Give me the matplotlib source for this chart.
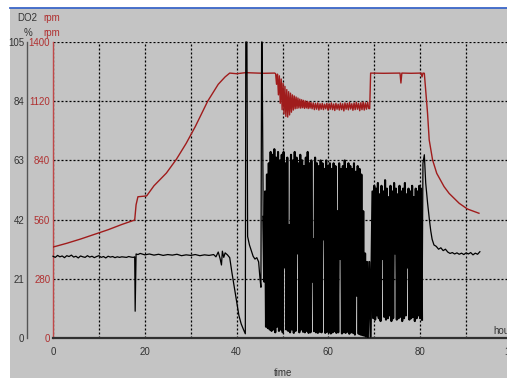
import numpy as np
import matplotlib
matplotlib.use("Agg")
import matplotlib.pyplot as plt
from matplotlib.patches import Rectangle
from matplotlib.lines import Line2D

plt.rcParams['font.family'] = ['Liberation Sans Narrow', 'Liberation Sans', 'DejaVu Sans']
plt.rcParams['path.simplify'] = False

# ---- stirrer speed (rpm), red curve ----
rpm_ramp_t = [0, 3, 6, 9, 12, 15, 17.8, 18.1, 18.5, 20.4, 22, 24.7, 26.9, 29, 31, 33.7, 36, 37.5, 38.5,
              40, 42, 44.5, 46, 48.3]
rpm_ramp_v = [430, 448, 468, 490, 512, 537, 558, 630, 668, 672, 720, 780, 846, 920, 1000, 1120, 1200, 1235, 1253,
              1250, 1255, 1253, 1252, 1253]
# oscillating band after the first plateau: 48.5 h .. 56 h, then 56.2 h .. 68.8 h
rpm_band1_hi = [1250, 1248, 1240, 1225, 1205, 1190, 1175, 1165, 1158, 1150, 1145, 1140, 1135, 1130, 1127,
                1124, 1121, 1119, 1117]
rpm_band1_lo = [1200, 1150, 1110, 1080, 1060, 1048, 1045, 1055, 1068, 1078, 1084, 1086, 1088, 1087, 1089,
                1086, 1088, 1085, 1087]
rpm_band2_hi = [1114, 1112, 1110, 1112, 1108, 1110, 1106, 1110, 1108, 1112, 1107, 1110, 1106, 1111, 1108,
                1112, 1110, 1114, 1108, 1112, 1115, 1110, 1113, 1116, 1112, 1115]
rpm_band2_lo = [1084, 1080, 1082, 1078, 1082, 1080, 1084, 1078, 1082, 1080, 1076, 1082, 1078, 1080, 1074,
                1082, 1079, 1083, 1077, 1080, 1082, 1075, 1080, 1078, 1082, 1085]
rpm_end_t = [69.0, 69.2, 72, 75.6, 75.8, 76.0, 78, 80.2, 80.4, 80.6, 80.9, 81.6, 81.96, 82.7, 83.6, 85.2,
             86.3, 88.5, 90.3, 92.8]
rpm_end_v = [1085, 1253, 1252, 1253, 1206, 1253, 1252, 1253, 1235, 1253, 1252, 1063, 937, 842, 779, 716,
             684, 637, 610, 590]

# ---- dissolved oxygen (%), black curve ----
do2_base_t = [0, 0.5, 1, 1.5, 2, 2.5, 3, 3.5, 4, 4.5, 5, 5.5, 6, 6.5, 7, 7.5, 8, 8.5, 9, 9.5, 10, 10.5,
              11, 11.5, 12, 12.5, 13, 13.5, 14, 14.5, 15, 15.5, 16, 16.5, 17, 17.5, 17.8, 17.9, 18.1,
              18.5, 19, 20, 21, 22, 23, 24, 25, 26, 27, 28, 29, 30, 31, 32, 33, 34, 35, 35.5, 36, 36.4,
              36.7, 36.9, 37.2, 37.5, 38, 38.5, 39, 39.5, 40, 40.5, 41, 41.5, 41.9, 42.0, 42.25, 42.4,
              42.8, 43.2, 43.6, 44, 44.4, 44.8, 45.1, 45.3, 45.45, 45.55, 45.8]
do2_base_v = [29.0, 28.6, 29.3, 28.8, 29.1, 28.5, 29.2, 28.9, 29.4, 28.7, 29.0, 28.4, 29.1, 28.8, 28.6, 29.2,
              28.7, 29.0, 28.5, 28.9, 29.2, 28.6, 28.9, 28.4, 29.0, 28.7, 28.9, 28.5, 28.8, 28.6, 28.8,
              28.7, 28.6, 28.9, 28.7, 28.6, 28.8, 9.5, 29.8, 29.6, 30.0, 29.5, 29.8, 29.4, 29.7, 29.3,
              29.6, 29.4, 29.7, 29.2, 29.5, 29.3, 29.6, 29.2, 29.5, 29.3, 29.6, 28.8, 30.5, 28.2, 25.9,
              30.8, 28.6, 30.2, 29.5, 28.5, 23, 18, 13, 8, 5, 3, 1.5, 105, 105, 36, 33, 31, 29, 28, 28.5,
              27, 21, 18, 105, 105, 43]
# fast on/off oscillation, 45.8 h .. 68.6 h
do2_a_hi = [43, 52, 58, 62, 66, 65, 67, 64, 66, 63, 65, 66, 62, 64, 40, 65, 63, 66, 64, 62, 65, 63, 61, 64,
            66, 62, 63, 35, 64, 62, 61, 63, 62, 60, 63, 61, 62, 60, 62, 61, 45, 62, 60, 61, 63, 60, 62, 61,
            60, 62, 59, 61, 60, 58, 45, 30, 27]
do2_a_lo = [20, 4, 3.5, 3, 2.5, 3, 2, 4, 2.5, 3, 2, 25, 3, 2.5, 2, 3, 1.8, 2.5, 30, 2, 3, 2.2, 2, 2.5, 1.8,
            2, 20, 2.4, 2, 1.8, 2.2, 2, 35, 1.8, 2.2, 2, 1.6, 2, 2.4, 1.8, 2, 28, 1.6, 2, 1.8, 2.2, 1.5, 2,
            1.8, 1.2, 15, 1.5, 1.2, 1, 0.8, 0.5, 0.3]
do2_gap_t = [68.9, 69.2]
do2_gap_v = [27, 0.5]
# second oscillation block, 69.6 h .. 80.4 h
do2_b_hi = [52, 54, 53, 55, 51, 54, 52, 56, 53, 50, 54, 52, 55, 53, 51, 54, 52, 53, 55, 51, 53, 52, 54, 50,
            53, 52, 54, 53]
do2_b_lo = [7, 6.5, 8, 7, 6, 28, 7.5, 6.5, 7, 8, 6, 7, 30, 6.5, 7, 7.5, 6, 7, 8, 25, 6.5, 7, 7.5, 6, 7, 8,
            7, 6.5]
do2_tail_t = [80.4, 80.6, 80.9, 81.2, 81.6, 82.0, 82.3, 82.6, 83, 83.5, 84, 84.5, 85, 85.5, 86, 86.5, 87,
              87.5, 88, 88.5, 89, 89.5, 90, 90.5, 91, 91.5, 92, 92.5, 93]
do2_tail_v = [6.5, 62, 65, 55, 48, 42, 38, 35, 33, 32.5, 31.5, 32, 31, 31.5, 30.5, 30, 30.3, 29.8, 30.2,
              29.7, 30.1, 29.6, 30.2, 29.8, 30.3, 29.5, 30.1, 29.7, 30.6]


def zigzag(hi, lo, t0, t1):
    vals = np.ravel(np.column_stack([hi, lo]))
    return np.linspace(t0, t1, len(vals)), vals


W, H = 507, 378
fig = plt.figure(figsize=(W / 100, H / 100), dpi=100)
fig.patch.set_facecolor('white')
fig.patches.append(Rectangle((10 / W, 0), 1, 1 - 8 / H, transform=fig.transFigure,
                             facecolor='#c4c4c4', edgecolor='none', zorder=-10))
fig.lines.append(Line2D([10 / W, 1], [1 - 7.5 / H, 1 - 7.5 / H], transform=fig.transFigure,
                        color='#3a66c8', lw=1.3))

ax = fig.add_axes([53 / W, (H - 338) / H, 459 / W, 296 / H])
ax.set_facecolor('none')
ax.set_xlim(0, 100)
ax.set_ylim(0, 1400)

grid_kw = dict(color='black', lw=0.9, dashes=(1.6, 1.6))
ax.set_xticks(np.arange(0, 101, 10))
ax.set_xticklabels([str(v) if v % 20 == 0 else '' for v in range(0, 101, 10)])
ax.set_yticks(np.arange(0, 1401, 280))
ax.grid(True, **grid_kw)
ax.tick_params(axis='x', length=0, pad=6.5, labelsize=7, labelcolor='#333333')
ax.tick_params(axis='y', length=0, pad=2, labelsize=7, labelcolor='#b03030')
for s in ['top', 'right']:
    ax.spines[s].set_visible(False)
ax.spines['left'].set_color('#c04848')
ax.spines['left'].set_linewidth(1.0)
ax.spines['bottom'].set_color('#303030')
ax.spines['bottom'].set_linewidth(1.6)

# red speed curve
b1t, b1v = zigzag(rpm_band1_hi, rpm_band1_lo, 48.5, 56.0)
b2t, b2v = zigzag(rpm_band2_hi, rpm_band2_lo, 56.2, 68.8)
rpm_t = np.concatenate([rpm_ramp_t, b1t, b2t, rpm_end_t])
rpm_v = np.concatenate([rpm_ramp_v, b1v, b2v, rpm_end_v])
ax.plot(rpm_t, rpm_v, color='#a01c1c', lw=1.0, zorder=3)

# DO2 axis on the left
ax2 = ax.twinx()
ax2.set_ylim(0, 105)
ax2.set_yticks(np.arange(0, 106, 21))
ax2.yaxis.tick_left()
ax2.spines['left'].set_visible(True)
ax2.spines['left'].set_position(('outward', 18.7))
ax2.spines['left'].set_color('#555555')
ax2.spines['left'].set_linewidth(1.0)
for s in ['top', 'right', 'bottom']:
    ax2.spines[s].set_visible(False)
ax2.tick_params(axis='y', length=0, pad=2, labelsize=7, labelcolor='#333333')

# DO2 curve: quiet parts thin, oscillating blocks drawn a little heavier
at, av = zigzag(do2_a_hi, do2_a_lo, 45.8, 68.6)
bt2, bv2 = zigzag(do2_b_hi, do2_b_lo, 69.6, 80.4)
ax2.plot(do2_base_t, do2_base_v, color='black', lw=0.9, zorder=3, clip_on=False)
osc_t = np.concatenate([at, do2_gap_t, bt2])
osc_v = np.concatenate([av, do2_gap_v, bv2])
ax2.plot(osc_t, osc_v, color='black', lw=1.5, zorder=3)
ax2.plot(do2_tail_t, do2_tail_v, color='black', lw=0.9, zorder=3)

# header and axis texts
fig.text(27.5 / W, 1 - 18 / H, 'DO2', ha='center', va='center', fontsize=7, color='#333333')
fig.text(27.5 / W, 1 - 33 / H, '%', ha='center', va='center', fontsize=7, color='#333333')
fig.text(51.5 / W, 1 - 18 / H, 'rpm', ha='center', va='center', fontsize=7, color='#b03030')
fig.text(51.5 / W, 1 - 33 / H, 'rpm', ha='center', va='center', fontsize=7, color='#b03030')
fig.text(283 / W, 1 - 373 / H, 'time', ha='center', va='center', fontsize=7, color='#333333')
fig.text(493 / W, 1 - 331 / H, 'hours', ha='left', va='center', fontsize=7, color='#333333')

fig.savefig('out.png', dpi=100, facecolor=fig.get_facecolor())
